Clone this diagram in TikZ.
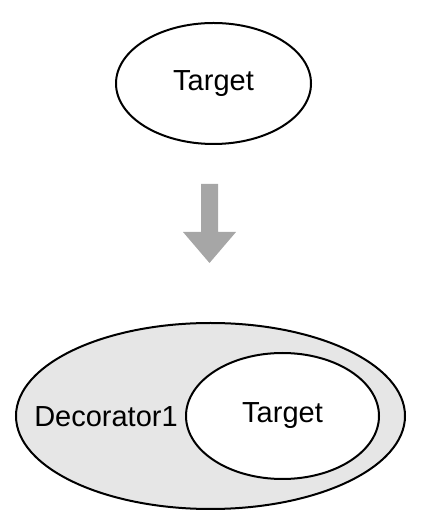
\documentclass[tikz,border=0pt]{standalone}
\usepackage{fontspec}
\setmainfont{Liberation Sans}
\usetikzlibrary{shapes.geometric}
\begin{document}
\begin{tikzpicture}[x=1pt,y=1pt,
  ell/.style={draw=black, line width=2pt, ellipse, inner sep=0pt},
  lbl/.style={font=\fontsize{29}{32}\selectfont, inner sep=0pt}]
\useasboundingbox (0,0) rectangle (421,521);
\definecolor{deco}{HTML}{E6E6E6}
\definecolor{arrowgray}{HTML}{A6A6A6}
% top
\node[ell, minimum width=195pt, minimum height=121pt] (top) at (213.5,437.5) {};
\node[lbl] (t1) at (top.center) {Target};
% arrow
\fill[arrowgray] (201,337) -- (218,337) -- (218,289) -- (236,289) -- (209.5,258) -- (183,289) -- (201,289) -- cycle;
% bottom
\node[ell, fill=deco, minimum width=389pt, minimum height=186pt] (deco) at (210.5,105) {};
\node[ell, fill=white, minimum width=193pt, minimum height=126pt] (inner) at (282.5,105) {};
\node[lbl] (t2) at (inner.center) {Target};
\node[lbl] (d1) at (106,104) {Decorator1};
\end{tikzpicture}
\end{document}
